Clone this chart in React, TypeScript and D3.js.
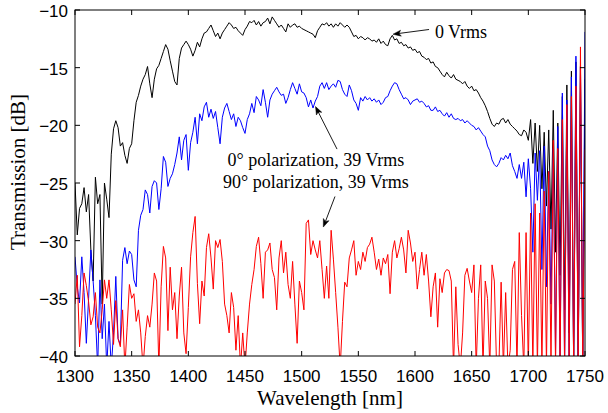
import React from 'react';
import * as d3 from 'd3';

// Wavelength grid (nm), 2 nm sampling
const wavelength: number[] = d3.range(1300, 1751, 2);

// 0 Vrms (black)
const trace0Vrms: number[] = [
  -25.0, -29.5, -27.2, -26.8, -25.4, -27.5, -26.0, -30.8, -33.5, -24.5,
  -26.8, -26.0, -35.5, -25.0, -26.4, -28.0, -22.5, -20.3, -19.6, -20.2,
  -21.8, -21.5, -22.6, -23.3, -22.0, -21.6, -19.6, -18.0, -17.4, -16.6,
  -16.0, -15.6, -14.9, -16.4, -17.6, -16.0, -15.1, -14.8, -14.2, -13.6,
  -13.0, -13.4, -14.4, -15.3, -16.2, -16.5, -14.2, -13.3, -13.0, -12.7,
  -13.0, -13.4, -14.0, -13.5, -12.8, -13.2, -12.5, -12.0, -11.9, -11.6,
  -11.3, -11.8, -12.3, -12.0, -12.5, -12.0, -11.7, -11.4, -11.1, -11.3,
  -11.6, -11.5, -11.8, -12.0, -12.2, -11.7, -11.4, -11.0, -11.1, -10.9,
  -11.3, -11.0, -11.4, -11.1, -11.0, -10.7, -11.2, -10.6, -10.9, -11.2,
  -11.5, -11.3, -11.6, -11.9, -11.2, -11.5, -11.3, -11.2, -11.5, -11.4,
  -11.6, -11.7, -11.8, -11.9, -12.0, -12.1, -12.4, -11.8, -11.5, -11.2,
  -11.3, -11.1, -11.4, -11.2, -11.5, -11.2, -11.4, -11.1, -11.3, -11.5,
  -11.3, -11.5, -11.9, -12.3, -12.2, -12.5, -12.3, -12.4, -12.6, -12.4,
  -12.5, -12.7, -12.6, -12.8, -12.5, -12.9, -12.7, -13.0, -13.1, -12.5,
  -12.2, -12.6, -12.5, -12.9, -12.8, -13.1, -13.0, -13.3, -13.2, -13.5,
  -13.4, -13.7, -13.6, -14.0, -14.1, -14.3, -14.2, -14.6, -14.5, -14.9,
  -15.0, -15.3, -15.6, -15.8, -15.4, -15.7, -15.9, -15.6, -16.0, -16.1,
  -16.2, -16.4, -16.2, -16.6, -16.8, -16.6, -17.0, -16.9, -17.2, -17.6,
  -17.9, -18.3, -18.8, -19.4, -19.9, -20.1, -19.8, -19.9, -19.5, -19.4,
  -19.8, -19.5, -19.9, -20.1, -20.3, -20.5, -20.8, -20.9, -20.4, -20.6,
  -21.3, -19.5, -23.3, -19.8, -24.0, -20.0, -25.5, -20.6, -27.0, -20.4,
  -29.0, -18.7, -31.0, -19.8, -33.0, -17.5, -36.0, -16.5, -38.0, -15.3,
  -41.0, -14.5, -41.0, -14.9, -41.0, -16.0,
];

// 0° polarization, 39 Vrms (blue)
const trace0deg: number[] = [
  -31.4, -34.0, -35.4, -31.4, -34.5, -38.9, -35.0, -30.8, -33.5, -36.5,
  -41.0, -33.4, -38.5, -35.5, -41.0, -37.0, -41.0, -38.0, -33.1, -38.5,
  -39.0, -31.7, -30.6, -32.0, -30.9, -31.2, -33.4, -34.0, -29.1, -27.8,
  -27.3, -25.6, -26.0, -27.6, -25.3, -24.8, -25.0, -27.3, -25.5, -22.7,
  -23.2, -25.3, -24.6, -24.2, -23.4, -22.4, -21.0, -23.0, -21.3, -20.8,
  -23.9, -21.5, -20.6, -19.3, -21.6, -19.0, -19.6, -18.4, -18.0, -19.3,
  -18.6, -19.4, -18.8, -20.2, -21.6, -19.3, -18.5, -18.1, -18.8, -19.5,
  -19.0, -20.1, -19.3, -19.6, -20.2, -20.7, -19.5, -19.0, -18.1, -18.9,
  -17.5, -17.8, -18.3, -16.9, -18.0, -19.3, -17.8, -17.3, -17.0, -16.7,
  -17.1, -17.4, -17.3, -18.1, -17.6, -16.9, -16.3, -16.8, -17.3, -16.4,
  -17.1, -17.2, -17.6, -18.4, -17.8, -18.5, -17.9, -17.5, -16.6, -16.3,
  -16.8, -16.3, -16.9, -16.6, -16.4, -16.7, -16.1, -16.2, -16.9, -17.3,
  -17.5, -16.5, -17.0, -17.8, -18.1, -18.7, -17.6, -17.9, -17.5, -17.8,
  -17.6, -17.9, -17.7, -18.0, -17.8, -18.2, -18.0, -17.6, -17.5, -17.0,
  -16.6, -16.3, -16.4, -16.9, -17.3, -17.7, -17.6, -17.8, -18.2, -17.9,
  -17.8, -17.7, -18.0, -17.9, -18.1, -18.4, -18.3, -18.7, -18.7, -18.4,
  -18.8, -18.7, -19.0, -19.2, -18.9, -19.3, -19.0, -19.4, -19.5, -19.4,
  -19.6, -19.5, -19.8, -19.6, -19.8, -20.0, -20.1, -20.4, -20.2, -20.5,
  -20.8, -21.0, -21.8, -22.2, -23.0, -23.4, -23.6, -23.3, -22.8, -23.0,
  -22.6, -22.9, -22.4, -23.5, -24.0, -24.6, -23.4, -24.6, -23.2, -26.2,
  -22.9, -25.5, -31.0, -22.4, -26.5, -22.2, -32.5, -21.8, -34.0, -24.0,
  -35.5, -22.0, -39.8, -20.1, -41.0, -17.2, -41.0, -17.8, -41.0, -15.8,
  -41.0, -14.0, -41.0, -14.9, -41.0, -11.9,
];

// 90° polarization, 39 Vrms (red)
const trace90deg: number[] = [
  -35.5, -33.0, -39.2, -36.5, -32.8, -33.9, -35.3, -37.3, -36.6, -34.5,
  -37.5, -38.0, -36.0, -33.4, -35.0, -33.4, -36.0, -39.0, -35.2, -38.5,
  -39.2, -36.0, -41.0, -37.5, -33.8, -35.0, -34.6, -37.0, -36.0, -38.0,
  -41.0, -38.3, -36.5, -37.5, -35.5, -32.8, -33.5, -41.0, -34.0, -30.5,
  -31.5, -37.8, -32.3, -36.0, -34.5, -38.5, -34.8, -32.3, -38.0, -39.8,
  -35.8, -31.4, -29.3, -27.9, -33.7, -37.2, -33.5, -34.8, -30.6, -29.4,
  -31.5, -34.2, -30.0, -30.6, -29.9, -31.8, -35.5, -36.5, -38.0, -34.5,
  -35.8, -39.5, -36.5, -41.0, -38.0, -41.0, -38.0, -35.5, -33.8, -32.5,
  -30.5, -29.7, -32.0, -35.0, -31.0, -30.8, -30.2, -32.5, -33.2, -36.0,
  -31.5, -30.0, -32.8, -31.0, -33.8, -35.0, -31.8, -35.5, -38.9, -33.5,
  -34.5, -36.0, -28.5, -28.2, -31.2, -30.0, -30.8, -31.5, -30.0, -32.5,
  -35.0, -32.2, -35.0, -29.1, -31.6, -34.5, -37.5, -41.0, -37.0, -33.6,
  -34.0, -31.5, -30.8, -30.0, -33.0, -31.8, -32.5, -31.0, -31.8, -30.6,
  -30.3, -29.7, -31.0, -32.5, -31.6, -33.0, -31.5, -32.0, -31.2, -34.6,
  -31.0, -30.0, -31.5, -30.7, -29.7, -30.8, -32.8, -29.1, -30.2, -31.8,
  -31.0, -34.2, -32.5, -31.0, -33.0, -31.2, -33.5, -36.6, -34.0, -32.8,
  -37.5, -33.3, -34.5, -32.8, -32.5, -32.6, -33.5, -41.0, -34.0, -39.0,
  -41.0, -38.0, -33.0, -32.4, -33.5, -34.5, -32.1, -41.0, -35.0, -32.1,
  -41.0, -33.5, -35.0, -41.0, -32.1, -33.5, -41.0, -41.0, -33.6, -41.0,
  -34.5, -41.0, -39.5, -32.5, -31.8, -41.0, -29.3, -36.5, -41.0, -29.3,
  -41.0, -27.6, -41.0, -26.8, -41.0, -27.6, -41.0, -25.7, -41.0, -24.0,
  -41.0, -21.3, -41.0, -22.0, -41.0, -19.5, -41.0, -18.2, -41.0, -17.5,
  -41.0, -16.6, -41.0, -13.2, -41.0, -22.1,
];

const xTicks = [1300, 1350, 1400, 1450, 1500, 1550, 1600, 1650, 1700, 1750];
const yTicks = [-40, -35, -30, -25, -20, -15, -10];

const seriesColors = ['#000000', '#0000ff', '#ff0000'];

// Annotation anchors in data coordinates [nm, dB]
const label0Vrms = { text: '0 Vrms', at: [1617.6, -12.43], tail: [1612.4, -11.69], tip: [1580.6, -12.1] };
const label0deg = { text: '0\u00b0 polarization, 39 Vrms', at: [1512.6, -23.53], tail: [1531.2, -22.06], tip: [1512.2, -18.37] };
const label90deg = { text: '90\u00b0 polarization, 39 Vrms', at: [1512.6, -25.44], tail: [1529.4, -26.17], tip: [1519.1, -28.82] };

const W = 608;
const H = 413;
const plot = { left: 75, right: 585, top: 10, bottom: 356 };

const serif = '"Liberation Serif", "Times New Roman", serif';
const sans = '"Liberation Sans", Arial, Helvetica, sans-serif';

function Arrow({ x1, y1, x2, y2 }: { x1: number; y1: number; x2: number; y2: number }) {
  const dx = x2 - x1;
  const dy = y2 - y1;
  const len = Math.hypot(dx, dy);
  const ux = dx / len;
  const uy = dy / len;
  const nx = -uy;
  const ny = ux;
  const L = 8;
  const w = 3;
  const bx = x2 - ux * L;
  const by = y2 - uy * L;
  const nbx = x2 - ux * L * 0.75;
  const nby = y2 - uy * L * 0.75;
  const head = `M${x2},${y2}L${bx + nx * w},${by + ny * w}L${nbx},${nby}L${bx - nx * w},${by - ny * w}Z`;
  return (
    <g>
      <line x1={x1} y1={y1} x2={nbx} y2={nby} stroke="#000" strokeWidth={0.9} />
      <path d={head} fill="#000" stroke="#000" strokeWidth={0.5} />
    </g>
  );
}

export default function App() {
  const x = d3.scaleLinear().domain([1300, 1750]).range([plot.left, plot.right]);
  const y = d3.scaleLinear().domain([-40, -10]).range([plot.bottom, plot.top]);
  const fmt = d3.format('d');

  const lineGen = d3
    .line<number>()
    .x((_, i) => x(wavelength[i]))
    .y((d) => y(d));

  const series = [trace0Vrms, trace0deg, trace90deg];

  return (
    <svg
      width={W}
      height={H}
      viewBox={`0 0 ${W} ${H}`}
      style={{ position: 'absolute', left: 0, top: 0, background: '#fff' }}
    >
      <defs>
        <clipPath id="plotClip">
          <rect x={plot.left} y={plot.top} width={plot.right - plot.left} height={plot.bottom - plot.top} />
        </clipPath>
      </defs>
      <rect x={0} y={0} width={W} height={H} fill="#fff" />

      <g clipPath="url(#plotClip)">
        {series.map((vals, k) => (
          <path
            key={k}
            d={lineGen(vals) || ''}
            fill="none"
            stroke={seriesColors[k]}
            strokeWidth={1}
            strokeLinejoin="round"
          />
        ))}
      </g>

      {/* axes box */}
      <rect
        x={plot.left}
        y={plot.top}
        width={plot.right - plot.left}
        height={plot.bottom - plot.top}
        fill="none"
        stroke="#000"
        strokeWidth={1}
      />

      {/* x ticks */}
      {xTicks.map((t) => (
        <g key={`xt${t}`}>
          <line x1={x(t)} x2={x(t)} y1={plot.bottom} y2={plot.bottom - 5} stroke="#000" strokeWidth={1} />
          <line x1={x(t)} x2={x(t)} y1={plot.top} y2={plot.top + 5} stroke="#000" strokeWidth={1} />
          <text x={x(t)} y={382} textAnchor="middle" fontFamily={sans} fontSize={17} fill="#000">
            {fmt(t)}
          </text>
        </g>
      ))}

      {/* y ticks */}
      {yTicks.map((t) => (
        <g key={`yt${t}`}>
          <line x1={plot.left} x2={plot.left + 5} y1={y(t)} y2={y(t)} stroke="#000" strokeWidth={1} />
          <line x1={plot.right} x2={plot.right - 5} y1={y(t)} y2={y(t)} stroke="#000" strokeWidth={1} />
          <text x={68} y={y(t) + 7} textAnchor="end" fontFamily={sans} fontSize={17} fill="#000">
            {fmt(t)}
          </text>
        </g>
      ))}

      {/* axis labels */}
      <text x={(plot.left + plot.right) / 2} y={405} textAnchor="middle" fontFamily={serif} fontSize={21} fill="#000">
        Wavelength [nm]
      </text>
      <text
        transform={`translate(24.5,${172}) rotate(-90)`}
        textAnchor="middle"
        fontFamily={serif}
        fontSize={21}
        fill="#000"
      >
        Transmission [dB]
      </text>

      {/* annotations */}
      {[label0Vrms, label0deg, label90deg].map((a, i) => (
        <Arrow key={`ar${i}`} x1={x(a.tail[0])} y1={y(a.tail[1])} x2={x(a.tip[0])} y2={y(a.tip[1])} />
      ))}
      <text x={x(label0Vrms.at[0])} y={y(label0Vrms.at[1])} fontFamily={serif} fontSize={18} fill="#000">
        {label0Vrms.text}
      </text>
      <text
        x={x(label0deg.at[0])}
        y={y(label0deg.at[1])}
        textAnchor="middle"
        fontFamily={serif}
        fontSize={18}
        fill="#000"
      >
        {label0deg.text}
      </text>
      <text
        x={x(label90deg.at[0])}
        y={y(label90deg.at[1])}
        textAnchor="middle"
        fontFamily={serif}
        fontSize={18}
        fill="#000"
      >
        {label90deg.text}
      </text>
    </svg>
  );
}
